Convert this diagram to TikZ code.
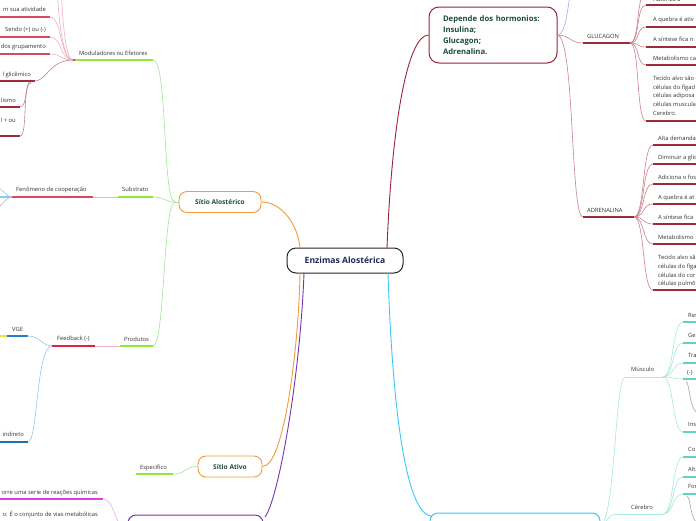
\documentclass[tikz,border=0pt]{standalone}
\usepackage{fontspec}
\setmainfont{Open Sans}
\definecolor{greenb}{HTML}{92E83A}
\definecolor{lgreen}{HTML}{A3E39A}
\definecolor{crim}{HTML}{D44A62}
\definecolor{pinkc}{HTML}{EFB0BD}
\definecolor{redb}{HTML}{E0203F}
\definecolor{dred}{HTML}{9E2A3C}
\definecolor{dpink}{HTML}{C9828E}
\definecolor{lblue}{HTML}{92C9E8}
\definecolor{blueb}{HTML}{1F80D0}
\definecolor{dblue}{HTML}{1F6FB8}
\definecolor{yel}{HTML}{F2E03C}
\definecolor{mag}{HTML}{E23BE2}
\definecolor{lmag}{HTML}{EEA8EE}
\definecolor{orangeb}{HTML}{F59A3A}
\definecolor{hred}{HTML}{9C2439}
\definecolor{boxtext}{HTML}{1E4A3C}
\definecolor{navy}{HTML}{1B2A55}
\definecolor{purp}{HTML}{7338A8}
\definecolor{cyanb}{HTML}{3CC8F5}
\definecolor{lpurp}{HTML}{B9A3E3}
\definecolor{teal}{HTML}{5DD5C2}
\definecolor{lteal}{HTML}{A6E9DE}
\begin{document}
\begin{tikzpicture}[x=1pt,y=-1pt,
  lbl/.style={font=\fontsize{5.8}{6.8}\selectfont, text=black!80, inner sep=0pt, anchor=base west},
  lble/.style={lbl, anchor=base east},
  ul/.style={line width=1.3pt},
  cn/.style={line width=0.6pt},
  topicbox/.style={rounded corners=8pt, line width=0.9pt, minimum height=21pt, inner sep=0pt, font=\fontsize{6.6}{7.6}\selectfont\bfseries, text=boxtext, fill=white},
]
\fill[white] (0,0) rectangle (696,520);
\useasboundingbox (0,0) rectangle (696,520);

% ---------- main nodes ----------
\node[draw=black!85, line width=1pt, rounded corners=9pt, minimum width=116pt, minimum height=25pt,
      font=\fontsize{8.6}{9.6}\selectfont\bfseries, text=navy, fill=white, inner sep=0pt] (root) at (345,260.5) {Enzimas Alostérica};
\node[topicbox, draw=orangeb, minimum width=82pt] (alo) at (220,202) {Sítio Alostérico};
\node[topicbox, draw=orangeb, minimum width=64pt] (ati) at (230,466.5) {Sítio Ativo};
\node[draw=hred, line width=1pt, rounded corners=10pt, minimum width=128pt, minimum height=56pt,
      text width=100pt, align=left, inner xsep=14pt, inner ysep=0pt,
      font=\fontsize{7.7}{11}\selectfont\bfseries, text=boxtext] (dep) at (493,35)
      {Depende dos hormonios:\\Insulina;\\Glucagon;\\Adrenalina.};
\node[draw=purp, line width=1pt, rounded corners=8pt, minimum width=135pt, minimum height=30pt, inner sep=0pt] (pbox) at (195.5,530) {};
\node[draw=cyanb, line width=1pt, rounded corners=8pt, minimum width=170pt, minimum height=30pt, inner sep=0pt] (cbox) at (515,528) {};

\coordinate (rTL) at (300,248);
\coordinate (rBL) at (300,273);
\coordinate (rBP) at (304,273);
\coordinate (rTR) at (387,248);
\coordinate (rBR) at (388,273);
\coordinate (pT) at (265,517);
\coordinate (cT) at (432,516);

\draw[orangeb, line width=0.9pt] (alo.east) .. controls (282,202) and (298,225) .. (rTL);
\draw[orangeb, line width=0.9pt] (rBL) .. controls (299,340) and (285,466.5) .. (ati.east);
\draw[purp, line width=0.9pt] (rBP) .. controls (300,380) and (278,500) .. (pT);
\draw[cyanb, line width=0.9pt] (rBR) .. controls (392,400) and (405,516) .. (cT);
\draw[hred, line width=0.9pt] (rTR) .. controls (392,120) and (408,35) .. (dep.west);

% ---------- Sitio Alosterico branch ----------
\coordinate (hubA) at (175,202);
\draw[cn, lgreen] (hubA) -- (alo.west);

\node[lbl] (mod) at (79,55) {Moduladores ou Efetores};
\draw[ul, greenb] (75,60) -- (153,60);
\draw[ul, crim] (72,60) -- (75,60);
\coordinate (modR) at (153,60);
\coordinate (modL) at (73,60);
\draw[cn, lgreen] (modR) .. controls (168,60) and (162,202) .. (hubA);

\node[lble] (m1) at (46,11) {m sua atividade};
\draw[ul, crim] (-2,17) -- (50,17);
\node[lble] (m2) at (46,31) {Sendo (+) ou (-)};
\draw[ul, crim] (-2,37) -- (50,37);
\node[lble] (m3) at (46,48.5) {dos grupamento};
\draw[ul, crim] (-2,54) -- (50,54);
\draw[cn, pinkc] (modL) .. controls (60,60) and (62,17) .. (50,17);
\draw[cn, pinkc] (modL) .. controls (60,60) and (62,37) .. (50,37);
\draw[cn, pinkc] (modL) .. controls (60,60) and (62,54) .. (50,54);
\draw[cn, pinkc] (modL) .. controls (62,60) and (58,15) .. (57,-20);
\draw[cn, pinkc] (modL) .. controls (65,60) and (62,15) .. (61,-20);

\node[lble] (g1) at (31,76) {l glicêmico};
\draw[ul, dred] (-2,81) -- (35,81);
\draw[cn, dpink] (modL) .. controls (50,60) and (46,81) .. (35,81);
\node[lble] (g2) at (16,102) {lismo};
\draw[ul, dred] (-2,107) -- (20,107);
\draw[cn, dpink] (31,82) .. controls (24,82) and (28,107) .. (20,107);
\node[lble] (g3) at (16,122) {l + ou};
\draw[ul, dred] (-2,136) -- (20,136);
\draw[cn, dpink] (31,83) .. controls (22,83) and (28,136) .. (20,136);

\node[lbl] (sub) at (122,191.5) {Substrato};
\draw[ul, greenb] (118,197) -- (153,197);
\draw[cn, lgreen] (153,197) .. controls (165,197) and (165,202) .. (hubA);
\node[lbl] (fen) at (16,191.5) {Fenômeno de cooperação};
\draw[ul, crim] (12,197) -- (93,197);
\draw[pinkc, line width=1pt] (93,197) -- (118,197);
\draw[ul, lblue] (-2,197) -- (12,197);
\draw[cn, lblue] (12,197) .. controls (5,197) and (3,188) .. (-5,186);
\draw[cn, lblue] (12,197) .. controls (5,197) and (3,206) .. (-5,209);

\node[lbl] (prod) at (124,341) {Produtos};
\draw[ul, greenb] (120,346) -- (153,346);
\draw[cn, lgreen] (153,346) .. controls (165,346) and (163,202) .. (hubA);
\node[lbl] (feed) at (57,340.5) {Feedback (-)};
\draw[ul, redb] (52,346) -- (95,346);
\draw[cn, pinkc] (95,346) -- (120,346);
\node[lbl] (vge) at (12,331) {VGE};
\draw[ul, blueb] (7,336) -- (28,336);
\draw[ul, yel] (-2,336) -- (7,336);
\draw[cn, lblue] (28,336) .. controls (40,336) and (42,346) .. (52,346);
\node[lble] (ind) at (24,436.5) {indireto};
\draw[ul, dblue] (-2,442) -- (28,442);
\draw[cn, lblue] (28,442) .. controls (38,442) and (36,346) .. (52,346);

% ---------- Sitio Ativo ----------
\node[lbl] (esp) at (140,469) {Específico};
\draw[ul, greenb] (136,474) -- (173,474);
\draw[cn, lgreen] (173,474) .. controls (186,474) and (185,466.5) .. (ati.west);

% ---------- purple branch ----------
\node[lble] (q1) at (98,494) {orre uma serie de reações químicas};
\draw[ul, mag] (-2,499) -- (103,499);
\node[lble] (q2) at (98,516) {o: É o conjunto de vias metabólicas};
\draw[cn, lmag] (103,499) .. controls (115,499) and (114,528) .. (127,528);

% ---------- hormones ----------
\coordinate (depR) at (557,35);
\draw[cn, lpurp] (depR) .. controls (566,35) and (567,10) .. (571,-10);
\node[lbl] (glu) at (587,38) {GLUCAGON};
\draw[ul, dred] (583,43) -- (630,43);
\draw[cn, dpink] (depR) .. controls (570,35) and (570,43) .. (583,43);
\node[lbl] (adr) at (587,212) {ADRENALINA};
\draw[ul, dred] (583,217) -- (634,217);
\draw[cn, dpink] (depR) .. controls (575,35) and (570,217) .. (583,217);

\coordinate (gH) at (630,43);
\foreach \y in {-8,5,27,47,65,121}{
  \draw[cn, dpink] (gH) .. controls (640,43) and (636,\y) .. (646,\y);
  \draw[ul, dred] (646,\y) -- (700,\y);
}
\node[lbl] (ga) at (653,1.5) {Autoriza a};
\node[lbl] (gb) at (653,21) {A quebra é ativ};
\node[lbl] (gc) at (653,41) {A síntese fica n};
\node[lbl] (gd) at (653,60) {Metabolismo ca};
\node[lbl] (ge1) at (653,80) {Tecido alvo são o};
\node[lbl] (ge2) at (653,89) {células do fígad};
\node[lbl] (ge3) at (653,97.5) {células adiposa};
\node[lbl] (ge4) at (653,106) {células muscula};
\node[lbl] (ge5) at (653,115) {Cerebro.};

\coordinate (aH) at (634,217);
\foreach \y in {145,164,184,204,224,244,290}{
  \draw[cn, dpink] (aH) .. controls (645,217) and (642,\y) .. (653,\y);
  \draw[ul, dred] (653,\y) -- (700,\y);
}
\node[lbl] (aa) at (658,140) {Alta demanda};
\node[lbl] (ab) at (658,159) {Diminuir a glic};
\node[lbl] (ac) at (658,179) {Adiciona o fos};
\node[lbl] (ad) at (658,199) {A quebra é at};
\node[lbl] (ae) at (658,219) {A síntese fica};
\node[lbl] (af) at (658,239) {Metabolismo};
\node[lbl] (ag1) at (658,259) {Tecido alvo sã};
\node[lbl] (ag2) at (658,268) {células do fíga};
\node[lbl] (ag3) at (658,277) {células do cor};
\node[lbl] (ag4) at (658,285) {células pulmõ};

% ---------- cyan branch ----------
\coordinate (cR) at (600,525);
\node[lbl] (mus) at (631,371.5) {Músculo};
\draw[lteal, line width=0.8pt] (625,377) -- (663,377);
\draw[cn, lteal] (cR) .. controls (615,525) and (615,377) .. (625,377);
\node[lbl] (cer) at (631,509) {Cérebro};
\draw[lteal, line width=0.8pt] (615,514) -- (663,514);
\draw[cn, lteal] (cR) .. controls (607,525) and (608,514) .. (615,514);

\coordinate (mH) at (663,377);
\foreach \y in {322,343,363,379,432}{
  \draw[cn, lteal] (mH) .. controls (674,377) and (672,\y) .. (683,\y);
  \draw[ul, teal] (683,\y) -- (700,\y);
}
\node[lbl] (ma) at (688,317) {Res};
\node[lbl] (mb) at (688,337.5) {Ge};
\node[lbl] (mc) at (688,357.5) {Tra};
\node[lbl] (md) at (687,374) {(-)};
\node[lbl] (me) at (688,426.5) {Ins};
\draw[cn, black!35] (686,381) .. controls (690,385) and (689,405) .. (696,412);

\coordinate (bH) at (663,514);
\foreach \y in {457,477,494}{
  \draw[cn, lteal] (bH) .. controls (674,514) and (672,\y) .. (683,\y);
  \draw[ul, teal] (683,\y) -- (700,\y);
}
\node[lbl] (ca) at (688,451.5) {Co};
\node[lbl] (cb) at (688,471.5) {Alt};
\node[lbl] (cc) at (688,488.5) {For};
\draw[cn, black!35] (687,496) .. controls (691,500) and (690,515) .. (696,522);
\end{tikzpicture}
\end{document}
